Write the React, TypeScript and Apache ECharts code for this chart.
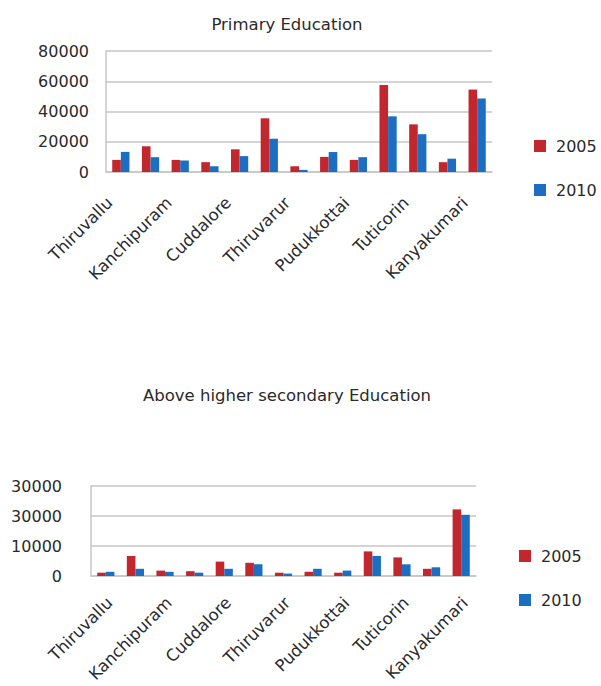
import React, { useEffect, useRef } from "react";
import * as echarts from "echarts";

const categories = [
  "Thiruvallu", "Chennai", "Kanchipuram", "Villupuram", "Cuddalore", "Nagapattinam",
  "Thiruvarur", "Thanjavur", "Pudukkottai", "Ramanathapuram", "Tuticorin", "Tirunelveli", "Kanyakumari",
];
const seriesNames = ["2005", "2010"];
const primary2005 = [8000, 17000, 8000, 6500, 15000, 35500, 3800, 10000, 8000, 57500, 31500, 6500, 54500];
const primary2010 = [13300, 9800, 7600, 3800, 10500, 22000, 1400, 13200, 9800, 36800, 25000, 8800, 48600];
const higher2005 = [1100, 6700, 1800, 1600, 4800, 4400, 1100, 1400, 1100, 8200, 6200, 2400, 22200];
const higher2010 = [1400, 2400, 1400, 1100, 2400, 3900, 800, 2400, 1800, 6700, 3900, 2900, 20400];
const higherTickLabels = ["0", "10000", "30000", "30000"];
const titles = ["Primary Education", "Above higher secondary Education"];

const RED = "#c1272d";
const BLUE = "#1c6ec3";
const FONT = "DejaVu Sans";
const TXT = "#2a2a2a";
const GRID = "#c6c6c6";

export default function App() {
  const ref = useRef<HTMLDivElement>(null);
  useEffect(() => {
    if (!ref.current) return;
    const chart = echarts.init(ref.current, null, { renderer: "svg" });
    const hiddenX = (gridIndex: number) => ({
      type: "category",
      gridIndex,
      data: categories,
      axisLine: { show: true, lineStyle: { color: GRID, width: 1.5 } },
      axisTick: { show: false },
      axisLabel: { show: false },
    });
    const labelX = (gridIndex: number, margin: number) => ({
      type: "category",
      gridIndex,
      data: categories,
      axisLine: { show: false },
      axisTick: { show: false },
      splitLine: { show: false },
      axisLabel: {
        interval: 1,
        rotate: 45,
        margin,
        fontSize: 16.5,
        fontFamily: FONT,
        color: TXT,
      },
    });
    const legend = (left: number, top: number) => ({
      orient: "vertical",
      left,
      top,
      itemGap: 28,
      itemWidth: 22,
      itemHeight: 12,
      icon: "path://M0,0H10V10H0Z",
      symbolKeepAspect: true,
      selectedMode: false,
      textStyle: { fontSize: 16, fontFamily: FONT, color: TXT, lineHeight: 16 },
      data: seriesNames,
    });
    const bar = (name: string, data: number[], color: string, idx: number) => ({
      type: "bar",
      name,
      data,
      xAxisIndex: idx,
      yAxisIndex: idx,
      itemStyle: { color },
      barGap: "0%",
      barCategoryGap: "42%",
    });
    chart.setOption({
      animation: false,
      backgroundColor: "#ffffff",
      grid: [
        { left: 106, top: 51, width: 386, height: 121 },
        { left: 91, top: 486, width: 385, height: 90 },
        { left: 95, top: 51, width: 385, height: 121 },
        { left: 95, top: 486, width: 385, height: 90 },
      ],
      xAxis: [hiddenX(0), hiddenX(1), labelX(2, 28), labelX(3, 24)],
      yAxis: [
        {
          type: "value",
          gridIndex: 0,
          min: 0,
          max: 80000,
          interval: 20000,
          axisLine: { show: true, lineStyle: { color: GRID, width: 1.5 } },
          axisTick: { show: false },
          splitLine: { lineStyle: { color: GRID, width: 1.5 } },
          axisLabel: {
            margin: 17,
            fontSize: 16,
            fontFamily: FONT,
            color: TXT,
            formatter: (v: number) => String(v),
          },
        },
        {
          type: "value",
          gridIndex: 1,
          min: 0,
          max: 30000,
          interval: 10000,
          axisLine: { show: true, lineStyle: { color: GRID, width: 1.5 } },
          axisTick: { show: false },
          splitLine: { lineStyle: { color: GRID, width: 1.5 } },
          axisLabel: {
            margin: 29,
            fontSize: 16,
            fontFamily: FONT,
            color: TXT,
            formatter: (v: number) => higherTickLabels[Math.round(v / 10000)] ?? "",
          },
        },
        { type: "value", gridIndex: 2, min: 0, max: 1, show: false },
        { type: "value", gridIndex: 3, min: 0, max: 1, show: false },
      ],
      legend: [legend(529, 133), legend(514, 543)],
      graphic: [
        {
          type: "text",
          x: 287,
          y: 24,
          style: { text: titles[0], fontSize: 16.5, fontFamily: FONT, fill: TXT, align: "center", verticalAlign: "middle" },
        },
        {
          type: "text",
          x: 287,
          y: 395,
          style: { text: titles[1], fontSize: 16.5, fontFamily: FONT, fill: TXT, align: "center", verticalAlign: "middle" },
        },
      ],
      series: [
        bar(seriesNames[0], primary2005, RED, 0),
        bar(seriesNames[1], primary2010, BLUE, 0),
        bar(seriesNames[0], higher2005, RED, 1),
        bar(seriesNames[1], higher2010, BLUE, 1),
      ],
    });
    return () => chart.dispose();
  }, []);
  return (
    <div
      ref={ref}
      style={{ position: "absolute", left: 0, top: 0, width: 601, height: 686, background: "#fff" }}
    />
  );
}
